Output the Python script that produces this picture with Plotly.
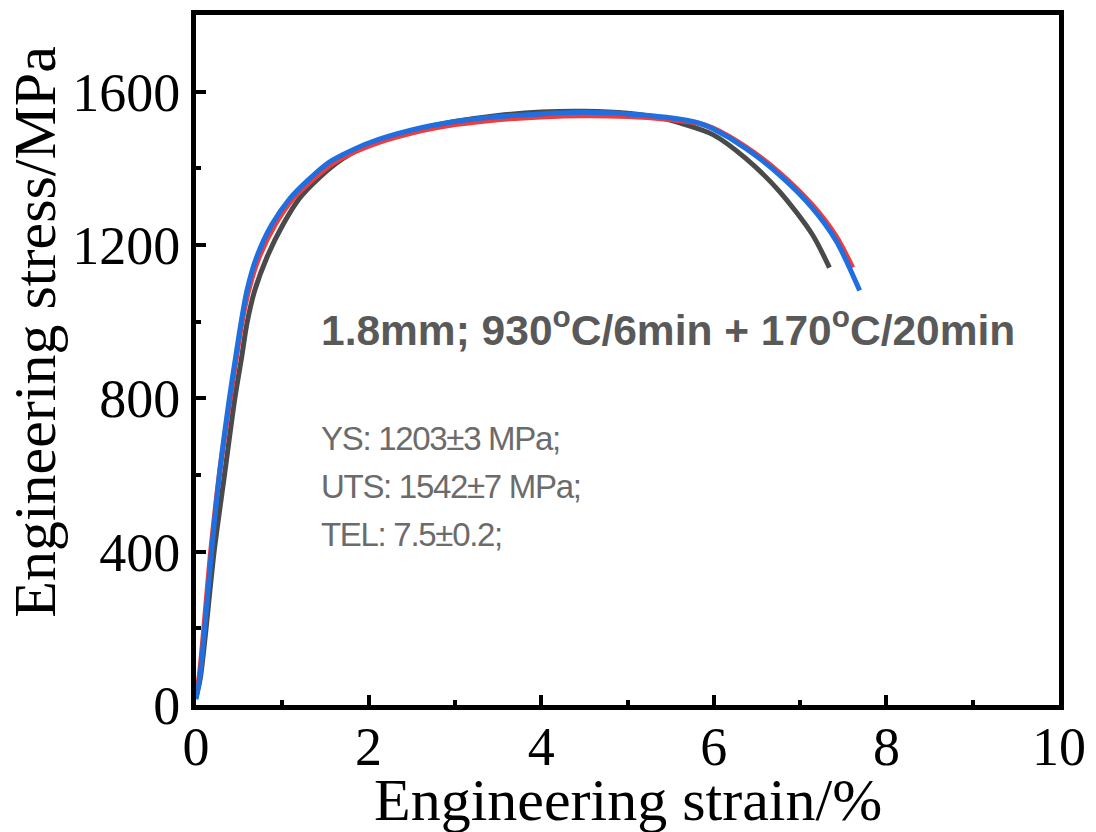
import plotly.graph_objects as go

# ---- data ----
gray_x = [0.00, 0.05, 0.21, 0.33, 0.45, 0.53, 0.59, 0.68, 0.82, 1.01, 1.20, 1.42, 1.70, 2.00, 2.50, 3.00, 3.50, 4.00, 4.50, 5.00, 5.40, 5.64, 5.99, 6.37, 6.76, 7.14, 7.34]
gray_y = [20, 70, 400, 600, 800, 909, 995, 1081, 1167, 1254, 1322, 1374, 1425, 1462, 1498, 1522, 1538, 1547, 1549, 1544, 1531, 1516, 1488, 1426, 1340, 1228, 1141]

red_x = [0.00, 0.04, 0.17, 0.27, 0.40, 0.47, 0.53, 0.61, 0.73, 0.92, 1.13, 1.37, 1.60, 2.00, 2.50, 3.00, 3.50, 4.00, 4.50, 5.00, 5.45, 5.83, 5.99, 6.37, 6.76, 7.14, 7.42, 7.61]
red_y = [25, 80, 400, 600, 805, 909, 995, 1081, 1167, 1254, 1322, 1374, 1415, 1458, 1492, 1514, 1527, 1534, 1537, 1535, 1528, 1517, 1505, 1456, 1389, 1305, 1222, 1141]

blue_x = [0.00, 0.045, 0.18, 0.27, 0.39, 0.46, 0.52, 0.59, 0.70, 0.88, 1.09, 1.32, 1.55, 2.00, 2.50, 3.00, 3.50, 4.00, 4.50, 5.00, 5.45, 5.83, 5.99, 6.37, 6.76, 7.14, 7.42, 7.69]
blue_y = [15, 73, 400, 600, 805, 909, 995, 1081, 1167, 1254, 1322, 1374, 1417, 1466, 1500, 1522, 1535, 1542, 1546, 1542, 1533, 1518, 1503, 1452, 1383, 1297, 1210, 1081]

x_ticks = [0, 2, 4, 6, 8, 10]
y_ticks = [0, 400, 800, 1200, 1600]

title_text = "1.8mm; 930<sup>o</sup>C/6min + 170<sup>o</sup>C/20min"
stats_text = ["YS: 1203±3 MPa;", "UTS: 1542±7 MPa;", "TEL: 7.5±0.2;"]
stats_y = [695, 570, 445]

fig = go.Figure()
for xs, ys, col in [(gray_x, gray_y, "#4a4a4a"), (red_x, red_y, "#f23b3b"), (blue_x, blue_y, "#1f6fe0")]:
    fig.add_trace(go.Scatter(x=xs, y=ys, mode="lines",
                             line=dict(color=col, width=5, shape="spline", smoothing=0.8),
                             showlegend=False, hoverinfo="skip"))

serif = "Liberation Serif, Times New Roman, serif"
axis_common = dict(showline=True, linewidth=5, linecolor="black", mirror=True,
                   showgrid=False, zeroline=False, ticks="inside", ticklen=10,
                   tickwidth=4, tickcolor="black",
                   tickfont=dict(family=serif, size=54, color="black"))

fig.update_xaxes(range=[0, 10], tickvals=x_ticks, ticklabelstandoff=-10,
                 minor=dict(ticks="inside", ticklen=5, tickwidth=4, dtick=1, tickcolor="black"),
                 **axis_common)
fig.update_yaxes(range=[0, 1800], tickvals=y_ticks, ticklabelstandoff=0,
                 minor=dict(ticks="inside", ticklen=5, tickwidth=4, dtick=200, tickcolor="black"),
                 **axis_common)

annotations = [
    dict(text="Engineering strain/%", xref="paper", yref="paper", x=0.5, y=-0.137,
         xanchor="center", yanchor="middle", showarrow=False,
         font=dict(family=serif, size=60, color="black")),
    dict(text="Engineering stress/MPa", xref="paper", yref="paper", x=-0.186, y=0.5417,
         xanchor="center", yanchor="middle", showarrow=False, textangle=-90,
         font=dict(family=serif, size=60, color="black")),
    dict(text="<b>" + title_text + "</b>", xref="x", yref="y", x=1.42, y=985,
         xanchor="left", yanchor="middle", showarrow=False,
         font=dict(family="Liberation Sans, Arial, sans-serif", size=42.5, color="#595959")),
]
for s, yv in zip(stats_text, stats_y):
    annotations.append(dict(text='<span style="letter-spacing:-1.3px">' + s + '</span>',
                            xref="x", yref="y", x=1.42, y=yv,
                            xanchor="left", yanchor="middle", showarrow=False,
                            font=dict(family="Liberation Sans, Arial, sans-serif",
                                      size=33, color="#6b6b6b")))

fig.update_layout(width=1096, height=832, plot_bgcolor="white", paper_bgcolor="white",
                  margin=dict(l=196, r=37, t=10, b=127), annotations=annotations)

fig.write_html("out.html")
